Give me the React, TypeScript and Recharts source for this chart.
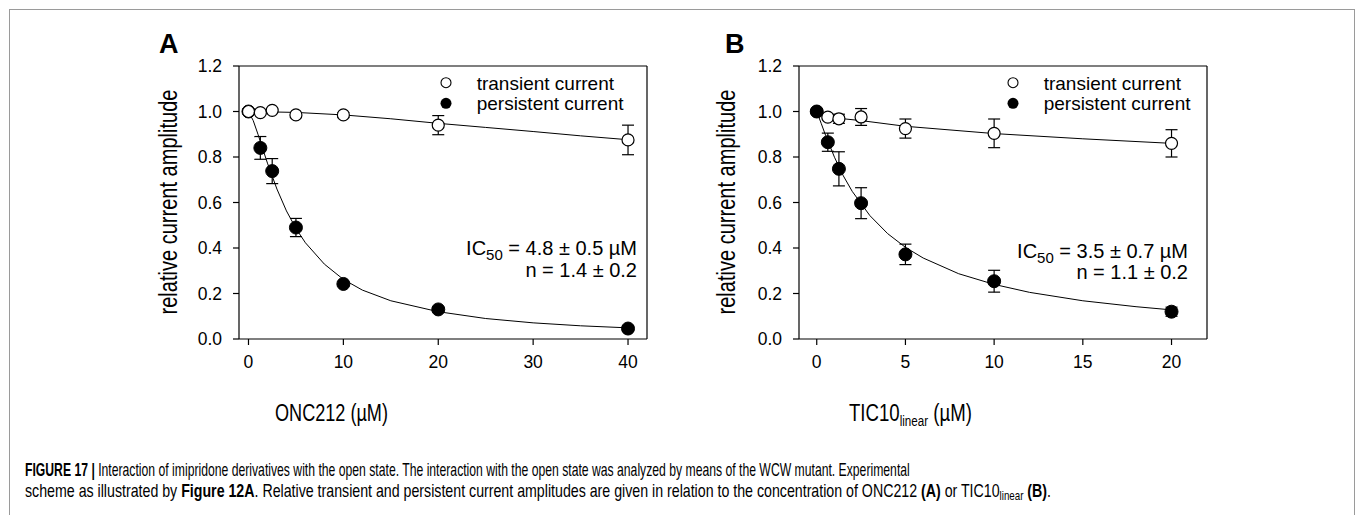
import React, { useLayoutEffect, useRef, useState } from 'react';
import { ScatterChart, Scatter, XAxis, YAxis, ErrorBar, ReferenceLine, Legend } from 'recharts';

const FONT = 'Arial, "Liberation Sans", Helvetica, sans-serif';

// panel A: ONC212
const concA = [0, 1.25, 2.5, 5, 10, 20, 40];
const transA = [1.0, 0.995, 1.005, 0.985, 0.985, 0.94, 0.875];
const transAErr = [0, 0.005, 0.005, 0.01, 0.01, 0.042, 0.065];
const persA = [1.0, 0.84, 0.738, 0.49, 0.242, 0.13, 0.046];
const persAErr = [0, 0.05, 0.055, 0.04, 0.01, 0.01, 0.012];
const fitAx = [0, 0.5, 1, 1.5, 2, 3, 4, 5, 6, 8, 10, 12, 15, 20, 25, 30, 35, 40];
const fitAPers = [1.0, 0.96, 0.9, 0.836, 0.773, 0.659, 0.563, 0.486, 0.423, 0.329, 0.262, 0.215, 0.168, 0.12, 0.09, 0.071, 0.058, 0.049];
const fitATx = [0, 5, 10, 15, 20, 25, 30, 35, 40];
const fitATrans = [1.0, 0.996, 0.985, 0.968, 0.948, 0.93, 0.912, 0.893, 0.876];
const ticksA = [0, 10, 20, 30, 40];

// panel B: TIC10 linear
const concB = [0, 0.625, 1.25, 2.5, 5, 10, 20];
const transB = [1.0, 0.975, 0.968, 0.976, 0.925, 0.904, 0.86];
const transBErr = [0, 0.005, 0.02, 0.037, 0.042, 0.063, 0.06];
const persB = [1.0, 0.865, 0.748, 0.597, 0.372, 0.254, 0.12];
const persBErr = [0, 0.04, 0.075, 0.068, 0.045, 0.048, 0.02];
const fitBx = [0, 0.25, 0.5, 1, 1.5, 2, 3, 4, 5, 6, 8, 10, 12, 15, 18, 20];
const fitBPers = [1.0, 0.948, 0.895, 0.799, 0.717, 0.649, 0.542, 0.463, 0.403, 0.356, 0.287, 0.24, 0.205, 0.168, 0.142, 0.128];
const fitBTx = [0, 0.625, 1.25, 2.5, 5, 10, 15, 20];
const fitBTrans = [1.0, 0.975, 0.97, 0.96, 0.935, 0.903, 0.88, 0.86];
const ticksB = [0, 5, 10, 15, 20];

const yTicks = [0, 0.2, 0.4, 0.6, 0.8, 1.0, 1.2];
const legendLabels = ['transient current', 'persistent current'];

const pts = (xs: number[], ys: number[], errs?: number[]) =>
  xs.map((x, i) => ({ x, y: ys[i], err: errs ? errs[i] : 0 }));

const openDot = (p: any) => <circle cx={p.cx} cy={p.cy} r={6} fill="#fff" stroke="#000" strokeWidth={1.2} />;
const fillDot = (p: any) => <circle cx={p.cx} cy={p.cy} r={6.5} fill="#000" stroke="#000" />;
const noDot = () => <g />;

// narrow text: squeeze horizontally to a measured width
function FitText({ x, y, width, size, children }: { x: number; y: number; width: number; size: number; children: React.ReactNode }) {
  const ref = useRef<SVGTextElement>(null);
  const [k, setK] = useState(1);
  useLayoutEffect(() => {
    const w = ref.current ? ref.current.getBBox().width : 0;
    if (w) setK(width / w);
  }, [width]);
  return (
    <text ref={ref} transform={`translate(${x},${y}) scale(${k},1)`} x={0} y={0} fontSize={size} fontFamily={FONT} fill="#000">
      {children}
    </text>
  );
}

const LegendBox = () => (
  <svg width={220} height={44} style={{ display: 'block', overflow: 'visible' }}>
    <circle cx={6} cy={10.7} r={5} fill="#fff" stroke="#000" strokeWidth={1.1} />
    <circle cx={6} cy={31.3} r={5.5} fill="#000" />
    <text x={36.7} y={18} fontSize={19} fontFamily={FONT} fill="#000">{legendLabels[0]}</text>
    <text x={36.7} y={38} fontSize={19} fontFamily={FONT} fill="#000">{legendLabels[1]}</text>
  </svg>
);

type Pt = { x: number; y: number; err: number };
type PanelProps = {
  left: number;
  width: number;
  yAxisWidth: number;
  marginRight: number;
  xMax: number;
  ticks: number[];
  trans: Pt[];
  pers: Pt[];
  fitTrans: Pt[];
  fitPers: Pt[];
  persOnTop: boolean;
  legendLeft: number;
};

function Panel(p: PanelProps) {
  const tick = { fill: '#000', fontSize: 17.5, fontFamily: FONT };
  const transSeries = (
    <Scatter key="t" data={p.trans} shape={openDot} isAnimationActive={false}>
      <ErrorBar dataKey="err" direction="y" width={6} stroke="#000" strokeWidth={1.2} />
    </Scatter>
  );
  const persSeries = (
    <Scatter key="p" data={p.pers} shape={fillDot} isAnimationActive={false}>
      <ErrorBar dataKey="err" direction="y" width={6} stroke="#000" strokeWidth={1.2} />
    </Scatter>
  );
  return (
    <div style={{ position: 'absolute', left: p.left, top: 0 }}>
      <ScatterChart width={p.width} height={400} margin={{ top: 66, right: p.marginRight, bottom: 0, left: 0 }}>
        <XAxis
          type="number"
          dataKey="x"
          domain={[-1, p.xMax]}
          ticks={p.ticks}
          allowDataOverflow
          height={61}
          tickSize={6}
          tickMargin={11}
          tick={tick}
          axisLine={{ stroke: '#000', strokeWidth: 1.2 }}
          tickLine={{ stroke: '#000', strokeWidth: 1.2 }}
        />
        <YAxis
          type="number"
          dataKey="y"
          domain={[0, 1.2]}
          ticks={yTicks}
          allowDataOverflow
          width={p.yAxisWidth}
          tickSize={6}
          tickMargin={11}
          tick={tick}
          tickFormatter={(v: number) => v.toFixed(1)}
          axisLine={{ stroke: '#000', strokeWidth: 1.2 }}
          tickLine={{ stroke: '#000', strokeWidth: 1.2 }}
        />
        <ReferenceLine y={1.2} stroke="#000" strokeWidth={1.2} />
        <ReferenceLine x={p.xMax} stroke="#000" strokeWidth={1.2} />
        <Scatter data={p.fitTrans} line={{ stroke: '#000', strokeWidth: 1 }} shape={noDot} isAnimationActive={false} />
        <Scatter data={p.fitPers} line={{ stroke: '#000', strokeWidth: 1 }} shape={noDot} isAnimationActive={false} />
        {p.persOnTop ? [transSeries, persSeries] : [persSeries, transSeries]}
        <Legend
          layout="horizontal"
          verticalAlign="middle"
          align="center"
          wrapperStyle={{ position: 'absolute', left: p.legendLeft, top: 72, width: 220 }}
          content={() => <LegendBox />}
        />
      </ScatterChart>
    </div>
  );
}

export default function App() {
  const t = { fontFamily: FONT, fill: '#000' };
  return (
    <div style={{ position: 'relative', width: 1355, height: 515, overflow: 'hidden', background: '#fff' }}>
      <style>{'body{margin:0}'}</style>
      <div style={{ position: 'absolute', left: 9, top: 9, width: 1344, height: 530, borderTop: '1.5px solid #9a9a9a', borderLeft: '1.5px solid #9a9a9a', borderRight: '1.5px solid #9a9a9a' }} />
      <Panel
        left={0}
        width={680}
        yAxisWidth={239}
        marginRight={33}
        xMax={42}
        ticks={ticksA}
        trans={pts(concA, transA, transAErr)}
        pers={pts(concA, persA, persAErr)}
        fitTrans={pts(fitATx, fitATrans)}
        fitPers={pts(fitAx, fitAPers)}
        persOnTop={false}
        legendLeft={440}
      />
      <Panel
        left={680}
        width={675}
        yAxisWidth={119}
        marginRight={148}
        xMax={22}
        ticks={ticksB}
        trans={pts(concB, transB, transBErr)}
        pers={pts(concB, persB, persBErr)}
        fitTrans={pts(fitBTx, fitBTrans)}
        fitPers={pts(fitBx, fitBPers)}
        persOnTop={true}
        legendLeft={327}
      />
      <svg width={1355} height={515} style={{ position: 'absolute', left: 0, top: 0, pointerEvents: 'none' }}>
        <text x={159} y={53} fontSize={27} fontWeight="bold" {...t}>A</text>
        <text x={725} y={53} fontSize={27} fontWeight="bold" {...t}>B</text>
        <text transform="translate(177,202) rotate(-90)" textAnchor="middle" fontSize={25} textLength={225} lengthAdjust="spacingAndGlyphs" {...t}>relative current amplitude</text>
        <text transform="translate(735,202) rotate(-90)" textAnchor="middle" fontSize={25} textLength={225} lengthAdjust="spacingAndGlyphs" {...t}>relative current  amplitude</text>
        <FitText x={275} y={421} width={113} size={24}>ONC212 (µM)</FitText>
        <FitText x={849} y={421} width={123} size={24}>
          TIC10<tspan fontSize={15} dy={5}>linear</tspan><tspan dy={-5}> (µM)</tspan>
        </FitText>
        <text x={637} y={255} textAnchor="end" fontSize={20} {...t}>
          IC<tspan fontSize={15} dy={5}>50</tspan><tspan dy={-5}> = 4.8 ± 0.5 µM</tspan>
        </text>
        <text x={637} y={277} textAnchor="end" fontSize={20} {...t}>n = 1.4 ± 0.2</text>
        <text x={1188} y={258} textAnchor="end" fontSize={20} {...t}>
          IC<tspan fontSize={15} dy={5}>50</tspan><tspan dy={-5}> = 3.5 ± 0.7 µM</tspan>
        </text>
        <text x={1188} y={279} textAnchor="end" fontSize={20} {...t}>n = 1.1 ± 0.2</text>
        <FitText x={25} y={476} width={885} size={17.5}>
          <tspan fontWeight="bold">FIGURE 17 | </tspan>Interaction of imipridone derivatives with the open state. The interaction with the open state was analyzed by means of the WCW mutant. Experimental
        </FitText>
        <FitText x={25} y={497} width={1027} size={17.5}>
          scheme as illustrated by <tspan fontWeight="bold">Figure 12A</tspan>. Relative transient and persistent current amplitudes are given in relation to the concentration of ONC212 <tspan fontWeight="bold">(A)</tspan> or TIC10<tspan fontSize={12} dy={3}>linear</tspan><tspan dy={-3}> </tspan><tspan fontWeight="bold">(B)</tspan>.
        </FitText>
      </svg>
    </div>
  );
}
